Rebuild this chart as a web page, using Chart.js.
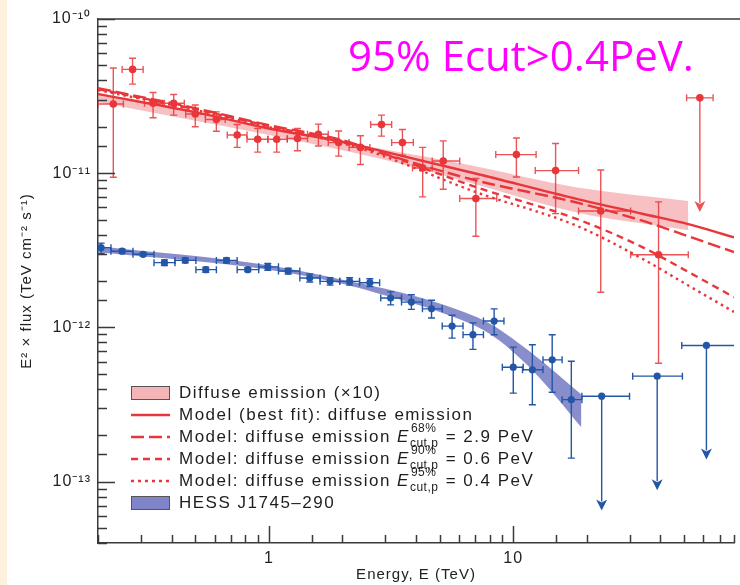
<!DOCTYPE html>
<html>
<head>
<meta charset="utf-8">
<script src="https://cdn.jsdelivr.net/npm/chart.js@4.4.1/dist/chart.umd.min.js"></script>
<style>
  html, body { margin: 0; padding: 0; background: #fff; }
</style>
</head>
<body>
<canvas id="chart" width="740" height="585"></canvas>
<script>
// diffuse emission (x10), red points with error bars (TeV, TeV cm-2 s-1)
const redE   = [0.231, 0.277, 0.336, 0.408, 0.50, 0.61, 0.742, 0.90, 1.077, 1.31, 1.595, 1.93, 2.37, 2.89, 3.52, 4.26, 5.17, 7.03, 10.3, 14.9, 22.8, 39.3];
const redF   = [2.81e-11, 4.71e-11, 2.84e-11, 2.84e-11, 2.42e-11, 2.23e-11, 1.77e-11, 1.66e-11, 1.66e-11, 1.68e-11, 1.79e-11, 1.58e-11, 1.47e-11, 2.07e-11, 1.58e-11, 1.08e-11, 1.20e-11, 6.85e-12, 1.32e-11, 1.04e-11, 5.69e-12, 2.96e-12];
const redElo = [0.20, 0.251, 0.310, 0.374, 0.457, 0.550, 0.676, 0.814, 0.991, 1.19, 1.44, 1.75, 2.13, 2.61, 3.18, 3.87, 4.66, 6.04, 8.48, 12.3, 18.5, 30.2];
const redEhi = [0.254, 0.306, 0.368, 0.451, 0.550, 0.663, 0.814, 0.991, 1.19, 1.44, 1.75, 2.13, 2.59, 3.18, 3.90, 4.66, 6.04, 8.56, 12.4, 18.5, 30.2, 52.0];
const redFlo = [9.42e-12, 3.78e-11, 2.29e-11, 2.38e-11, 2.00e-11, 1.87e-11, 1.47e-11, 1.37e-11, 1.37e-11, 1.40e-11, 1.50e-11, 1.29e-11, 1.14e-11, 1.74e-11, 1.31e-11, 7.02e-12, 7.87e-12, 3.90e-12, 9.46e-12, 5.47e-12, 1.69e-12, 5.86e-13];
const redFhi = [4.81e-11, 5.56e-11, 3.34e-11, 3.24e-11, 2.77e-11, 2.50e-11, 2.07e-11, 1.95e-11, 1.95e-11, 1.95e-11, 2.08e-11, 1.88e-11, 1.75e-11, 2.38e-11, 1.92e-11, 1.47e-11, 1.62e-11, 9.24e-12, 1.69e-11, 1.56e-11, 1.05e-11, 6.52e-12];
// red upper limit
const redUlE = [58.0], redUlF = [3.08e-11], redUlElo = [51.2], redUlEhi = [65.7];

// HESS J1745-290, blue points
const hessE   = [0.206, 0.251, 0.306, 0.374, 0.455, 0.552, 0.671, 0.82, 0.99, 1.20, 1.47, 1.78, 2.14, 2.59, 3.15, 3.83, 4.63, 5.62, 6.84, 8.35, 10.0, 11.97, 14.43, 17.28];
const hessF   = [3.29e-12, 3.12e-12, 2.98e-12, 2.63e-12, 2.72e-12, 2.37e-12, 2.72e-12, 2.37e-12, 2.47e-12, 2.32e-12, 2.09e-12, 1.99e-12, 1.99e-12, 1.95e-12, 1.55e-12, 1.46e-12, 1.32e-12, 1.02e-12, 8.98e-13, 1.10e-12, 5.52e-13, 5.31e-13, 6.16e-13, 3.40e-13];
const hessElo = [0.20, 0.226, 0.278, 0.339, 0.413, 0.503, 0.610, 0.742, 0.909, 1.095, 1.339, 1.62, 1.95, 2.35, 2.87, 3.49, 4.25, 5.12, 6.23, 7.55, 9.02, 10.91, 13.23, 15.84];
const hessEhi = [0.226, 0.278, 0.339, 0.413, 0.503, 0.610, 0.742, 0.909, 1.095, 1.339, 1.62, 1.95, 2.35, 2.84, 3.49, 4.25, 5.12, 6.23, 7.55, 9.16, 10.98, 13.23, 15.84, 19.09];
const hessFlo = [3.02e-12, 3.02e-12, 2.90e-12, 2.52e-12, 2.62e-12, 2.28e-12, 2.62e-12, 2.30e-12, 2.35e-12, 2.22e-12, 1.97e-12, 1.88e-12, 1.88e-12, 1.84e-12, 1.40e-12, 1.31e-12, 1.15e-12, 8.52e-13, 7.20e-13, 8.97e-13, 3.75e-13, 3.15e-13, 3.80e-13, 1.42e-13];
const hessFhi = [3.52e-12, 3.22e-12, 3.06e-12, 2.74e-12, 2.82e-12, 2.46e-12, 2.82e-12, 2.44e-12, 2.60e-12, 2.42e-12, 2.22e-12, 2.10e-12, 2.10e-12, 2.07e-12, 1.70e-12, 1.63e-12, 1.50e-12, 1.20e-12, 1.07e-12, 1.32e-12, 7.45e-13, 7.72e-13, 8.97e-13, 6.04e-13];
// blue upper limits
const hessUlE = [23.0, 38.8, 61.7], hessUlF = [3.58e-13, 4.83e-13, 7.64e-13];
const hessUlElo = [19.09, 30.8, 48.9], hessUlEhi = [29.9, 49.2, 84.0];

// shaded bands
const redBandE  = [0.2, 1, 2.8, 7, 18, 52];
const redBandHi = [3.31e-11, 1.99e-11, 1.45e-11, 1.11e-11, 8.11e-12, 6.61e-12];
const redBandLo = [2.89e-11, 1.77e-11, 1.25e-11, 8.48e-12, 5.58e-12, 4.27e-12];
const hessBandE  = [0.2, 1, 2, 3, 5, 8, 12, 19];
const hessBandHi = [3.36e-12, 2.53e-12, 2.04e-12, 1.78e-12, 1.43e-12, 1.06e-12, 6.75e-13, 3.67e-13];
const hessBandLo = [3.07e-12, 2.37e-12, 1.92e-12, 1.61e-12, 1.26e-12, 9.10e-13, 5.26e-13, 2.25e-13];

// model curves
const modelE    = [0.2, 0.5, 1, 2, 2.8, 7, 18, 33.7, 52, 80];
const modelBest = [3.26e-11, 2.49e-11, 1.95e-11, 1.60e-11, 1.41e-11, 9.96e-12, 6.85e-12, 5.46e-12, 4.67e-12, 3.84e-12];
const model68   = [3.56e-11, 2.64e-11, 2.05e-11, 1.64e-11, 1.375e-11, 9.00e-12, 6.48e-12, 4.92e-12, 3.90e-12, 3.08e-12];
const model90   = [3.51e-11, 2.60e-11, 2.02e-11, 1.59e-11, 1.37e-11, 8.15e-12, 5.08e-12, 3.32e-12, 2.29e-12, 1.57e-12];
const model95   = [3.46e-11, 2.57e-11, 1.99e-11, 1.565e-11, 1.33e-11, 7.56e-12, 4.59e-12, 2.79e-12, 1.87e-12, 1.26e-12];

// tick labels
const xTickVals = [1, 10];
const xTickText = ['1', '10'];
const yTickExp  = [-13, -12, -11, -10];
const yTickText = ['10⁻¹³', '10⁻¹²', '10⁻¹¹', '10⁻¹⁰'];

const RED = '#e8363a';
const RED_ERR = 'rgba(232,54,58,0.85)';
const PINK = 'rgba(242,150,155,0.6)';
const BLUE = '#2356a6';
const BLUE_BAND = 'rgba(120,126,196,0.88)';
const UL_DROP = 5.5;   // arrow length factor
const CAP = 3.5;
const HEAD = 11;

const pts = (E, F, lo, hi, flo, fhi) => E.map((e, i) => ({
  x: e, y: F[i], xMin: lo[i], xMax: hi[i],
  yMin: flo ? flo[i] : F[i], yMax: fhi ? fhi[i] : F[i]
}));
const curve = (E, F) => E.map((e, i) => ({x: e, y: F[i]}));

const modelLine = (F, dash, label) => ({
  label, data: curve(modelE, F), borderColor: RED, borderWidth: 2.4, borderDash: dash,
  pointRadius: 0, fill: false, cubicInterpolationMode: 'monotone', order: 5
});

function isDecade(v) {
  const l = Math.log10(v);
  return Math.abs(l - Math.round(l)) < 1e-6;
}

function drawErrors(chart, ds) {
  const {ctx, chartArea: a, scales: {x, y}} = chart;
  ctx.save();
  ctx.beginPath();
  ctx.rect(a.left, a.top, a.right - a.left, a.bottom - a.top);
  ctx.clip();
  ctx.strokeStyle = ds.errColor;
  ctx.fillStyle = ds.errColor;
  ctx.lineWidth = 1.4;
  ds.data.forEach(p => {
    const px = x.getPixelForValue(p.x), py = y.getPixelForValue(p.y);
    const x0 = x.getPixelForValue(p.xMin), x1 = x.getPixelForValue(p.xMax);
    ctx.beginPath();
    ctx.moveTo(x0, py); ctx.lineTo(x1, py);
    ctx.moveTo(x0, py - CAP); ctx.lineTo(x0, py + CAP);
    ctx.moveTo(x1, py - CAP); ctx.lineTo(x1, py + CAP);
    if (ds.upperLimit) {
      const yEnd = y.getPixelForValue(p.y / UL_DROP);
      ctx.moveTo(px, py); ctx.lineTo(px, yEnd - HEAD + 2);
      ctx.stroke();
      ctx.beginPath();
      ctx.moveTo(px - HEAD / 2, yEnd - HEAD);
      ctx.lineTo(px, yEnd - HEAD + 3);
      ctx.lineTo(px + HEAD / 2, yEnd - HEAD);
      ctx.lineTo(px, yEnd);
      ctx.closePath();
      ctx.fill();
    } else {
      const y0 = y.getPixelForValue(p.yMin), y1 = y.getPixelForValue(p.yMax);
      ctx.moveTo(px, y0); ctx.lineTo(px, y1);
      ctx.moveTo(px - CAP, y0); ctx.lineTo(px + CAP, y0);
      ctx.moveTo(px - CAP, y1); ctx.lineTo(px + CAP, y1);
      ctx.stroke();
    }
  });
  ctx.restore();
}

const errorBars = {
  id: 'errorBars',
  beforeDatasetDraw(chart, args) {
    const ds = chart.data.datasets[args.index];
    if (ds.errColor) drawErrors(chart, ds);
  }
};

function drawLegend(ctx) {
  const rows = [
    {kind: 'box', color: 'rgba(244,180,184,1)', text: 'Diffuse emission (×10)'},
    {kind: 'line', dash: [], text: 'Model (best fit): diffuse emission'},
    {kind: 'line', dash: [13, 5], text: 'Model: diffuse emission ', sup: '68%', val: ' = 2.9 PeV'},
    {kind: 'line', dash: [7, 5], text: 'Model: diffuse emission ', sup: '90%', val: ' = 0.6 PeV'},
    {kind: 'line', dash: [3, 4], text: 'Model: diffuse emission ', sup: '95%', val: ' = 0.4 PeV'},
    {kind: 'box', color: 'rgba(128,132,200,1)', text: 'HESS J1745–290'}
  ];
  const x0 = 131, x1 = 170, tx = 179;
  let yy = 393;
  ctx.save();
  ctx.textBaseline = 'middle';
  ctx.letterSpacing = '1.5px';
  rows.forEach(r => {
    if (r.kind === 'box') {
      ctx.fillStyle = r.color;
      ctx.fillRect(x0, yy - 7, x1 - x0, 14);
      ctx.strokeStyle = '#555';
      ctx.lineWidth = 1;
      ctx.strokeRect(x0 + 0.5, yy - 6.5, x1 - x0 - 1, 13);
    } else {
      ctx.strokeStyle = RED;
      ctx.lineWidth = 2.6;
      ctx.setLineDash(r.dash);
      ctx.beginPath();
      ctx.moveTo(x0, yy); ctx.lineTo(x1, yy);
      ctx.stroke();
      ctx.setLineDash([]);
    }
    ctx.fillStyle = '#1e1e1e';
    ctx.font = '17px "Liberation Sans", Arial, sans-serif';
    ctx.fillText(r.text, tx, yy);
    if (r.sup) {
      let cx = tx + ctx.measureText(r.text).width;
      ctx.font = 'italic 17px "Liberation Sans", Arial, sans-serif';
      ctx.fillText('E', cx, yy);
      cx += ctx.measureText('E').width;
      ctx.letterSpacing = '0.5px';
      ctx.font = '12px "Liberation Sans", Arial, sans-serif';
      ctx.fillText(r.sup, cx + 1, yy - 8);
      ctx.fillText('cut,p', cx, yy + 7);
      cx += Math.max(ctx.measureText(r.sup).width, ctx.measureText('cut,p').width) + 1;
      ctx.letterSpacing = '1.5px';
      ctx.font = '17px "Liberation Sans", Arial, sans-serif';
      ctx.fillText(r.val, cx, yy);
    }
    yy += 22;
  });
  ctx.restore();
}

const decor = {
  id: 'decor',
  beforeDraw(chart) {
    const ctx = chart.ctx;
    ctx.save();
    ctx.fillStyle = '#fdf1de';
    ctx.fillRect(0, 0, 7, chart.height);
    ctx.restore();
    ctx.letterSpacing = '1px';
  },
  afterDraw(chart) {
    const {ctx, chartArea: a, scales: {x, y}} = chart;
    ctx.save();
    ctx.strokeStyle = '#3a3a3a';
    ctx.lineWidth = 1.5;
    ctx.beginPath();
    ctx.moveTo(a.left, a.top); ctx.lineTo(chart.width, a.top);
    // inner tick marks
    y.ticks.forEach(t => {
      const py = Math.round(y.getPixelForValue(t.value)) + 0.5;
      const len = isDecade(t.value) ? 17 : 9;
      ctx.moveTo(a.left, py); ctx.lineTo(a.left + len, py);
    });
    x.ticks.forEach(t => {
      const px = Math.round(x.getPixelForValue(t.value)) + 0.5;
      const len = isDecade(t.value) ? 17 : 8;
      ctx.moveTo(px, a.bottom); ctx.lineTo(px, a.bottom - len);
    });
    ctx.stroke();

    // annotation
    ctx.fillStyle = '#ff00ff';
    ctx.letterSpacing = '0px';
    ctx.font = '42px "Open Sans", sans-serif';
    ctx.textBaseline = 'alphabetic';
    ctx.fillText('95% Ecut>0.4PeV.', 348, 71);
    ctx.restore();

    drawLegend(ctx);
  }
};

new Chart(document.getElementById('chart'), {
  type: 'line',
  data: {
    datasets: [
      {label: 'Diffuse emission (×10)', data: curve(redBandE, redBandHi), borderWidth: 0, pointRadius: 0,
       backgroundColor: PINK, fill: '+1', cubicInterpolationMode: 'monotone', order: 10},
      {label: 'diffuse band low', data: curve(redBandE, redBandLo), borderWidth: 0, pointRadius: 0,
       fill: false, cubicInterpolationMode: 'monotone', order: 10},
      {label: 'HESS J1745–290', data: curve(hessBandE, hessBandHi), borderWidth: 0, pointRadius: 0,
       backgroundColor: BLUE_BAND, fill: '+1', cubicInterpolationMode: 'monotone', order: 10},
      {label: 'HESS band low', data: curve(hessBandE, hessBandLo), borderWidth: 0, pointRadius: 0,
       fill: false, cubicInterpolationMode: 'monotone', order: 10},
      modelLine(modelBest, [], 'Model (best fit)'),
      modelLine(model68, [13, 5], 'Ecut 68% = 2.9 PeV'),
      modelLine(model90, [7, 5], 'Ecut 90% = 0.6 PeV'),
      modelLine(model95, [2.5, 4], 'Ecut 95% = 0.4 PeV'),
      {label: 'diffuse points', data: pts(redE, redF, redElo, redEhi, redFlo, redFhi), showLine: false,
       pointRadius: 3.8, pointBackgroundColor: RED, pointBorderWidth: 0, errColor: RED_ERR, order: 1},
      {label: 'diffuse UL', data: pts(redUlE, redUlF, redUlElo, redUlEhi), showLine: false, upperLimit: true,
       pointRadius: 3.8, pointBackgroundColor: RED, pointBorderWidth: 0, errColor: RED_ERR, order: 1},
      {label: 'HESS points', data: pts(hessE, hessF, hessElo, hessEhi, hessFlo, hessFhi), showLine: false,
       pointRadius: 3.6, pointBackgroundColor: BLUE, pointBorderWidth: 0, errColor: BLUE, order: 1},
      {label: 'HESS UL', data: pts(hessUlE, hessUlF, hessUlElo, hessUlEhi), showLine: false, upperLimit: true,
       pointRadius: 3.6, pointBackgroundColor: BLUE, pointBorderWidth: 0, errColor: BLUE, order: 1}
    ]
  },
  options: {
    responsive: false,
    animation: false,
    devicePixelRatio: 1,
    layout: {padding: {left: 18, top: 19, right: 0, bottom: 0}},
    plugins: {legend: {display: false}, tooltip: {enabled: false}},
    scales: {
      x: {
        type: 'logarithmic', min: 0.2, max: 80,
        grid: {display: false, drawTicks: false},
        border: {display: true, color: '#3a3a3a', width: 1.5},
        ticks: {
          autoSkip: false, maxRotation: 0, padding: 6, color: '#222',
          font: {family: '"Liberation Sans", Arial, sans-serif', size: 16},
          callback: v => { const i = xTickVals.findIndex(t => Math.abs(t - v) < 1e-9); return i < 0 ? '' : xTickText[i]; }
        },
        title: {display: true, text: 'Energy, E (TeV)', color: '#222', padding: {top: 0, bottom: 1},
                font: {family: '"Liberation Sans", Arial, sans-serif', size: 15}},
        afterFit: s => { s.height = 42; }
      },
      y: {
        type: 'logarithmic', min: 4e-14, max: 1e-10,
        grid: {display: false, drawTicks: false},
        border: {display: true, color: '#3a3a3a', width: 1.5},
        ticks: {
          autoSkip: false, padding: 7, color: '#222',
          font: {family: '"Liberation Sans", Arial, sans-serif', size: 16},
          callback: v => { const i = yTickExp.findIndex(p => Math.abs(Math.log10(v) - p) < 1e-6); return i < 0 ? '' : yTickText[i]; }
        },
        title: {display: true, text: 'E² × flux (TeV cm⁻² s⁻¹)', color: '#222', padding: {top: 0, bottom: 0},
                font: {family: '"Liberation Sans", Arial, sans-serif', size: 15}},
        afterFit: s => { s.width = 80; }
      }
    }
  },
  plugins: [errorBars, decor]
});
</script>
</body>
</html>
